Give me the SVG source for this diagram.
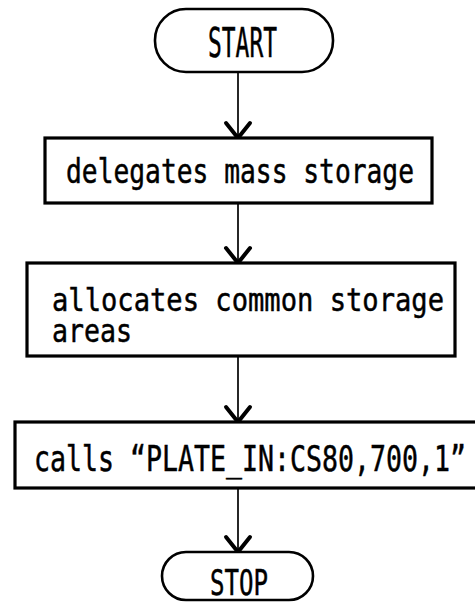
<svg xmlns="http://www.w3.org/2000/svg" width="475" height="609" viewBox="0 0 475 609">
  <defs>
    <marker id="arrow" markerUnits="userSpaceOnUse" orient="auto" refX="0" refY="0" markerWidth="40" markerHeight="40" viewBox="-20 -20 40 40" overflow="visible">
      <path d="M-15,-12 L0,0 L-15,12" fill="none" stroke="#000" stroke-width="4" stroke-linecap="round" stroke-linejoin="miter"/>
    </marker>
  </defs>
  <style>
    .box { fill: #fff; stroke: #000; stroke-width: 3.2; }
    .term { fill: #fff; stroke: #000; stroke-width: 2.6; }
    .conn { stroke: #000; stroke-width: 1.7; fill: none; }
    .t { font-family: "DejaVu Sans Mono", "Liberation Mono", monospace; fill: #000; stroke: #000; stroke-width: 0.5; }
  </style>
  <rect width="475" height="609" fill="#fff"/>
  <g id="connectors">
    <line class="conn" x1="238" y1="72" x2="238" y2="138" marker-end="url(#arrow)"/>
    <line class="conn" x1="238" y1="203" x2="238" y2="263" marker-end="url(#arrow)"/>
    <line class="conn" x1="238" y1="356" x2="238" y2="422" marker-end="url(#arrow)"/>
    <line class="conn" x1="238" y1="488" x2="238" y2="552" marker-end="url(#arrow)"/>
  </g>
  <g id="start">
    <rect class="term" x="155" y="9" width="178" height="63" rx="31" ry="31"/>
    <text class="t" x="208" y="57" font-size="41" textLength="69" lengthAdjust="spacingAndGlyphs">START</text>
  </g>
  <g id="delegate">
    <rect class="box" x="45" y="138" width="387" height="65"/>
    <text class="t" x="66" y="183" font-size="33" textLength="348" lengthAdjust="spacingAndGlyphs">delegates mass storage</text>
  </g>
  <g id="allocate">
    <rect class="box" x="27" y="263" width="428" height="93"/>
    <text class="t" x="52" y="311" font-size="32" textLength="392" lengthAdjust="spacingAndGlyphs">allocates common storage</text>
    <text class="t" x="52" y="342" font-size="32" textLength="80" lengthAdjust="spacingAndGlyphs">areas</text>
  </g>
  <g id="calls">
    <rect class="box" x="15" y="422" width="470" height="66"/>
    <text class="t" x="34" y="471" font-size="36" textLength="432" lengthAdjust="spacingAndGlyphs">calls “PLATE_IN:CS80,700,1”</text>
  </g>
  <g id="stop">
    <rect class="term" x="162" y="552" width="151" height="48" rx="24" ry="24"/>
    <text class="t" x="210" y="595" font-size="35" textLength="58" lengthAdjust="spacingAndGlyphs">STOP</text>
  </g>
</svg>
